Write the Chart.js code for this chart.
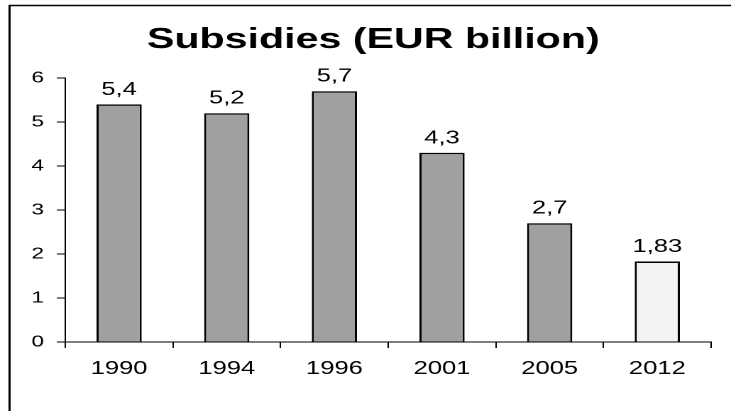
<!DOCTYPE html>
<html>
<head>
<meta charset="utf-8">
<script src="https://cdn.jsdelivr.net/npm/chart.js@4/dist/chart.umd.min.js"></script>
<style>
  body { margin: 0; background: #fff; overflow: hidden; }
  #grafico { transform: scaleX(1.4194); transform-origin: 0 0; display: block; }
</style>
</head>
<body>
<canvas id="grafico" width="515" height="411" style="width:515px;height:411px"></canvas>
<script>
// datos del grafico
const titulo = "Subsidies (EUR billion)";
const anios = ["1990", "1994", "1996", "2001", "2005", "2012"];
const subsidios = [5.4, 5.2, 5.7, 4.3, 2.7, 1.83];
const ticksY = [0, 1, 2, 3, 4, 5, 6];

const fuente = "'Liberation Sans', Arial, sans-serif";

window.onload = function () {

    // marco y titulo dibujados a mano
    const marco = {
        id: "marco",
        beforeDraw(chart) {
            const ctx = chart.ctx;
            ctx.save();
            ctx.fillStyle = "#fff";
            ctx.fillRect(0, 0, chart.width, chart.height);
            ctx.strokeStyle = "#000";
            ctx.lineWidth = 1.5;
            ctx.strokeRect(6.7, 5.5, 700, 700);
            ctx.restore();
        },
        afterDraw(chart) {
            const ctx = chart.ctx;
            ctx.save();
            ctx.fillStyle = "#000";
            ctx.font = "bold 29px " + fuente;
            ctx.textAlign = "center";
            ctx.textBaseline = "alphabetic";
            ctx.fillText(titulo, 263, 48);
            ctx.restore();
        }
    };

    // etiquetas de valor encima de cada barra
    const etiquetas = {
        id: "etiquetas",
        afterDatasetsDraw(chart) {
            const ctx = chart.ctx;
            const meta = chart.getDatasetMeta(0);
            ctx.save();
            ctx.fillStyle = "#000";
            ctx.font = "18px " + fuente;
            ctx.textAlign = "center";
            ctx.textBaseline = "alphabetic";
            meta.data.forEach(function (barra, i) {
                const texto = String(subsidios[i]).replace(".", ",");
                ctx.fillText(texto, barra.x, barra.y - 9.5);
            });
            ctx.restore();
        }
    };

    new Chart(document.getElementById("grafico"), {
        type: "bar",
        data: {
            labels: anios,
            datasets: [{
                data: subsidios,
                backgroundColor: subsidios.map((v, i) => i === subsidios.length - 1 ? "#f2f2f2" : "#a0a0a0"),
                borderColor: "#000",
                borderWidth: 1.5,
                categoryPercentage: 1,
                barPercentage: 0.42
            }]
        },
        options: {
            responsive: false,
            animation: false,
            devicePixelRatio: 2,
            layout: { padding: { top: 78, right: 14, left: 0, bottom: 0 } },
            plugins: {
                legend: { display: false },
                tooltip: { enabled: false },
                title: { display: false }
            },
            scales: {
                x: {
                    grid: { offset: true, drawOnChartArea: false, drawTicks: true, tickLength: 6, color: "#000", lineWidth: 1 },
                    border: { display: true, color: "#000", width: 1 },
                    ticks: { color: "#000", font: { family: fuente, size: 18 }, padding: 10, maxRotation: 0 },
                    afterFit(scale) { scale.height = 69; }
                },
                y: {
                    min: ticksY[0],
                    max: ticksY[ticksY.length - 1],
                    afterBuildTicks(scale) { scale.ticks = ticksY.map(v => ({ value: v })); },
                    grid: { drawOnChartArea: false, drawTicks: true, tickLength: 6, color: "#000", lineWidth: 1 },
                    border: { display: true, color: "#000", width: 1 },
                    ticks: { color: "#000", font: { family: fuente, size: 16 }, padding: 9 },
                    afterFit(scale) { scale.width = 46; }
                }
            }
        },
        plugins: [marco, etiquetas]
    });
};
</script>
</body>
</html>
